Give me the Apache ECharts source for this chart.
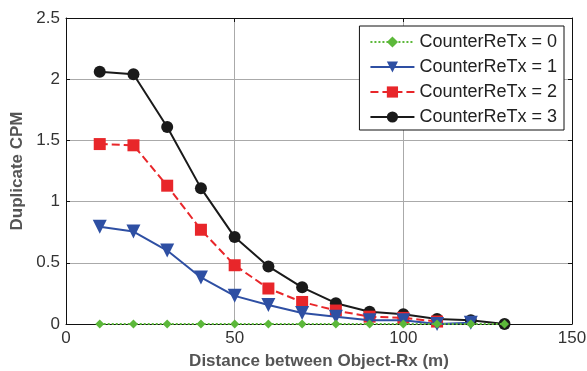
<!DOCTYPE html>
<html><head><meta charset="utf-8">
<script src="https://cdn.jsdelivr.net/npm/echarts@6/dist/echarts.min.js"></script>
<style>html,body{margin:0;padding:0;background:#fff}#c{width:587px;height:371px}</style>
</head><body><div id="c"></div>
<script>
const distances = [10, 20, 30, 40, 50, 60, 70, 80, 90, 100, 110, 120, 130];
const retx0 = [0, 0, 0, 0, 0, 0, 0, 0, 0, 0, 0, 0, 0];
const retx1 = [0.795, 0.755, 0.60, 0.38, 0.23, 0.155, 0.09, 0.06, 0.03, 0.03, 0.0, 0.01];
const retx2 = [1.47, 1.46, 1.13, 0.77, 0.48, 0.29, 0.18, 0.11, 0.06, 0.05, 0.02];
const retx3 = [2.06, 2.04, 1.61, 1.11, 0.71, 0.47, 0.30, 0.17, 0.10, 0.08, 0.04, 0.03, 0.0];
const seriesNames = ['CounterReTx = 0', 'CounterReTx = 1', 'CounterReTx = 2', 'CounterReTx = 3'];

const pairs = arr => arr.map((v, i) => [distances[i], v]);
const font = 'Liberation Sans, Arial, sans-serif';
const chart = echarts.init(document.getElementById('c'));
chart.setOption({
  animation: false,
  grid: { left: 66, right: 15, top: 18, bottom: 47, outerBoundsMode: 'none', containLabel: false },
  legend: {
    orient: 'vertical', right: 23, top: 26,
    backgroundColor: '#fff', borderColor: '#111', borderWidth: 1,
    padding: [7, 7, 4, 10], itemGap: 7, itemWidth: 44, itemHeight: 14,
    textStyle: { fontFamily: font, fontSize: 18, color: '#222' },
    data: seriesNames
  },
  xAxis: [{
    type: 'value', min: 0, max: 150, interval: 50,
    name: 'Distance between Object-Rx (m)', nameLocation: 'middle', nameGap: 29,
    nameTextStyle: { fontFamily: font, fontSize: 17, fontWeight: 'bold', color: '#555' },
    axisLine: { show: true, lineStyle: { color: '#111', width: 1 } },
    axisTick: { inside: true, length: 4, lineStyle: { color: '#111' } },
    axisLabel: { fontFamily: font, fontSize: 17, color: '#333', margin: 6 },
    splitLine: { show: true, lineStyle: { color: '#aaa', width: 1 } }
  }, {
    type: 'value', min: 0, max: 150, interval: 50, position: 'top',
    axisLine: { show: true, onZero: false, lineStyle: { color: '#111' } },
    axisTick: { inside: true, length: 4, lineStyle: { color: '#111' } },
    axisLabel: { show: false }, splitLine: { show: false }
  }],
  yAxis: [{
    type: 'value', min: 0, max: 2.5, interval: 0.5,
    name: 'Duplicate CPM', nameLocation: 'middle', nameGap: 37,
    nameTextStyle: { fontFamily: font, fontSize: 17, fontWeight: 'bold', color: '#555' },
    axisLine: { show: true, lineStyle: { color: '#111', width: 1 } },
    axisTick: { inside: true, length: 4, lineStyle: { color: '#111' } },
    axisLabel: { fontFamily: font, fontSize: 17, color: '#333', margin: 6 },
    splitLine: { show: true, lineStyle: { color: '#aaa', width: 1 } }
  }, {
    type: 'value', min: 0, max: 2.5, interval: 0.5, position: 'right',
    axisLine: { show: true, onZero: false, lineStyle: { color: '#111' } },
    axisTick: { inside: true, length: 4, lineStyle: { color: '#111' } },
    axisLabel: { show: false }, splitLine: { show: false }
  }],
  series: [
    { name: seriesNames[0], type: 'line', data: pairs(retx0), symbol: 'diamond', symbolSize: 9,
      itemStyle: { color: '#5cb83a' }, lineStyle: { color: '#5cb83a', type: 'dotted', width: 2 }, z: 5 },
    { name: seriesNames[1], type: 'line', data: pairs(retx1), symbol: 'triangle', symbolRotate: 180, symbolSize: 14,
      itemStyle: { color: '#2e4fa3' }, lineStyle: { color: '#2e4fa3', width: 2 }, z: 4 },
    { name: seriesNames[2], type: 'line', data: pairs(retx2), symbol: 'rect', symbolSize: 12,
      itemStyle: { color: '#e8262a' }, lineStyle: { color: '#e8262a', type: 'dashed', width: 2 }, z: 3 },
    { name: seriesNames[3], type: 'line', data: pairs(retx3), symbol: 'circle', symbolSize: 12,
      itemStyle: { color: '#1a1a1a' }, lineStyle: { color: '#1a1a1a', width: 2 }, z: 2 }
  ]
});
</script></body></html>
